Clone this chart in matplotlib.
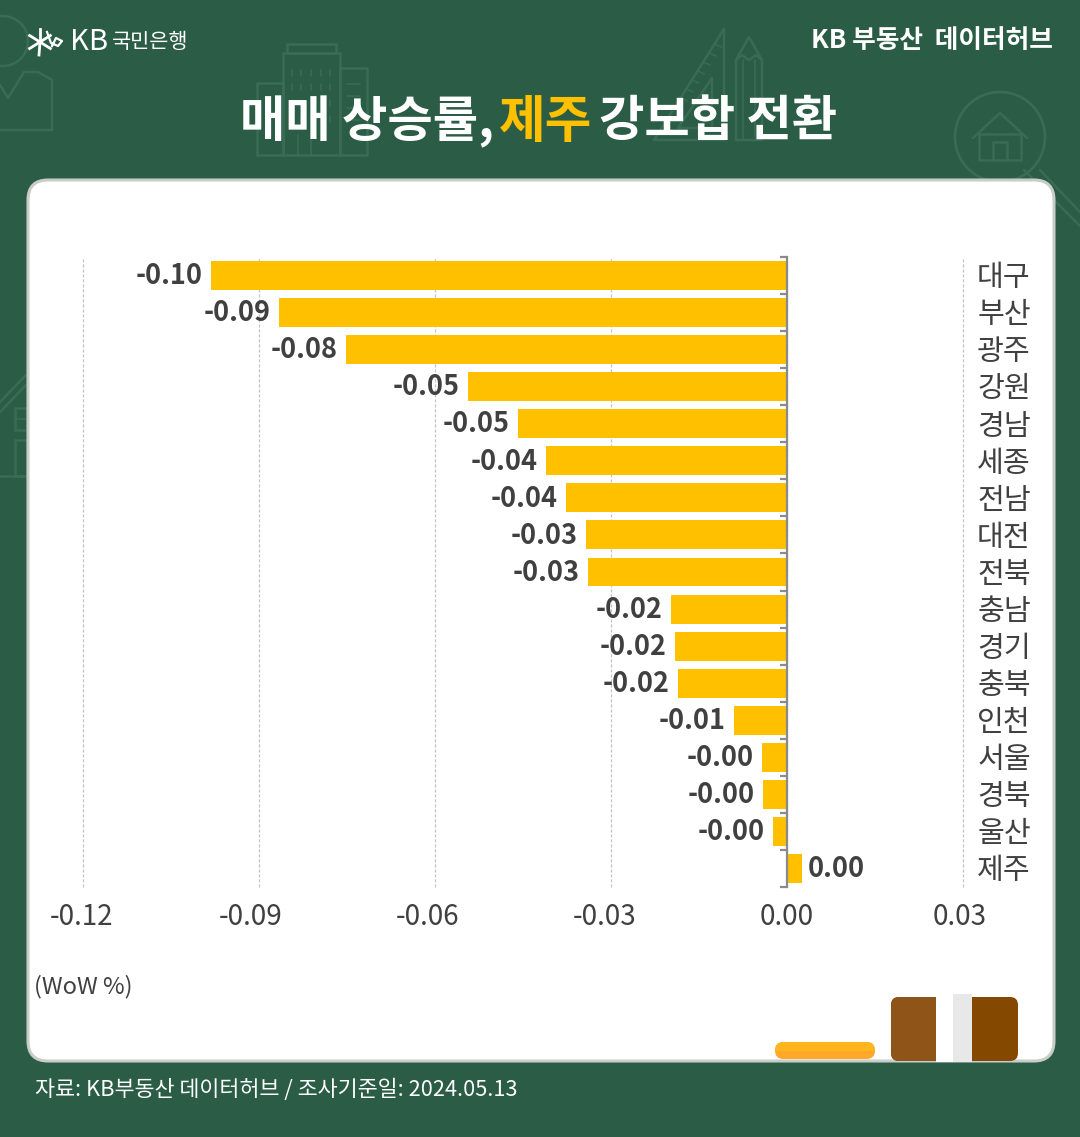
import matplotlib
matplotlib.use('Agg')
import matplotlib.pyplot as plt
import numpy as np
from matplotlib.patches import FancyBboxPatch, Rectangle, Circle
from matplotlib.transforms import ScaledTranslation

plt.rcParams['font.family'] = ['Noto Sans CJK KR', 'DejaVu Sans']

regions = ['대구', '부산', '광주', '강원', '경남', '세종', '전남', '대전', '전북',
           '충남', '경기', '충북', '인천', '서울', '경북', '울산', '제주']
values = [-0.0982, -0.0866, -0.0752, -0.0544, -0.0458, -0.0411, -0.0377, -0.0343, -0.0339,
          -0.0198, -0.0191, -0.0186, -0.0090, -0.0043, -0.0041, -0.0024, 0.0026]
x_ticks = [-0.12, -0.09, -0.06, -0.03, 0.00, 0.03]

GREEN = '#2a5c46'
DECO = '#396b55'
YELLOW = '#ffc000'
TEXT = '#404040'

W, H = 1080, 1137
fig = plt.figure(figsize=(W / 100, H / 100), dpi=100, facecolor=GREEN)

# pixel-coordinate layer for the card and decoration
bg = fig.add_axes([0, 0, 1, 1], zorder=0)
bg.set_xlim(0, W)
bg.set_ylim(H, 0)
bg.axis('off')


def deco_line(xs, ys, lw=1.8):
    bg.plot(xs, ys, color=DECO, lw=lw, solid_capstyle='round', zorder=1)


def deco_box(x, y, w, h, lw=1.8):
    bg.add_patch(Rectangle((x, y), w, h, fill=False, ec=DECO, lw=lw, zorder=1))


# person icon, left
bg.add_patch(Circle((3, 41), 25, fill=False, ec=DECO, lw=1.8, zorder=1))
deco_line([0, 8, 24, 38, 52, 52, 0], [85, 98, 72, 72, 80, 130, 130])
# buildings
deco_box(283, 53, 57, 102)
deco_box(287, 44, 49, 9)
deco_box(257, 83, 26, 72)
deco_box(340, 68, 27, 87)
for bx in [292, 301, 311, 321, 330]:
    for by in [70, 84, 100, 116]:
        deco_line([bx, bx], [by, by + 6], lw=1.2)
for by in [84, 96, 108, 120]:
    deco_line([347, 360], [by, by], lw=1.2)
deco_line([298, 298], [135, 155], lw=1.2)
deco_line([311, 311], [135, 155], lw=1.2)
# set square and pencil
deco_line([724, 724, 654, 724], [29, 140, 140, 29])
deco_line([712, 712, 678, 712], [78, 128, 128, 78])
for t in np.arange(44, 120, 9):
    k = (t - 29) / 111 * 70
    deco_line([724 - k, 724 - k + 7], [t, t + 3], lw=1.1)
deco_line([736, 736, 749, 762, 762, 736], [140, 60, 37, 60, 140, 140])
deco_line([736, 742, 749, 756, 762], [60, 55, 60, 55, 60])
deco_line([743, 743], [60, 140], lw=1.2)
deco_line([755, 755], [60, 140], lw=1.2)
# magnifier and house, right
bg.add_patch(Circle((1000, 137), 45, fill=False, ec=DECO, lw=2, zorder=1))
deco_line([973, 1000, 1027], [138, 113, 138])
deco_line([979, 979, 1021, 1021, 979], [134, 160, 160, 134, 134])
deco_line([993, 993, 1007, 1007], [160, 142, 142, 160])
deco_line([1024, 1080], [170, 226])
deco_line([1040, 1080], [170, 212])
# house, left edge
deco_line([0, 26], [402, 375])
deco_line([0, 26], [412, 385])
deco_box(15, 408, 12, 22)
deco_line([15, 27], [419, 419], lw=1.2)
deco_box(15, 440, 12, 36)
deco_line([0, 26], [476, 476])

# white card
bg.add_patch(FancyBboxPatch((28, 180), 1026, 881, boxstyle='round,pad=0,rounding_size=20',
                            fc='white', ec='#c9cdca', lw=2.2, zorder=2))

# KB logo, drawn as strokes
for a in [90, 150, 30, 210, 330]:
    r = np.deg2rad(a)
    bg.plot([40, 40 + 12 * np.cos(r)], [42, 42 - 13 * np.sin(r)], color='white', lw=2, zorder=3)
bg.plot([40, 39], [42, 55], color='white', lw=2, zorder=3)
bg.plot([47, 51, 58, 62, 56, 52], [32, 43, 46, 41, 38, 46], color='white', lw=1.6, zorder=3)
bg.text(70, 42, 'KB', color='white', fontsize=21, va='center', ha='left', zorder=3)
bg.text(112, 42, '국민은행', color='white', fontsize=15, fontweight='medium', va='center', ha='left', zorder=3)
bg.text(1053, 41, 'KB 부동산  데이터허브', color='white', fontsize=18.5, fontweight='bold',
        va='center', ha='right', zorder=3)

# title
bg.text(240, 122, '매매 상승률,', color='white', fontsize=35.5, fontweight='bold', va='center', ha='left', zorder=3)
bg.text(499, 122, '제주', color=YELLOW, fontsize=36.5, fontweight='bold', va='center', ha='left', zorder=3)
bg.text(599, 122, '강보합 전환', color='white', fontsize=35.5, fontweight='bold', va='center', ha='left', zorder=3)

# footer and unit
bg.text(35, 1090, '자료: KB부동산 데이터허브 / 조사기준일: 2024.05.13', color='white', fontsize=15.7,
        va='center', ha='left', zorder=3)
bg.text(34, 987, '(WoW %)', color=TEXT, fontsize=17, va='center', ha='left', zorder=3)

# the little desk objects on the card edge
pill = FancyBboxPatch((775, 1042), 100, 17, boxstyle='round,pad=0,rounding_size=8.5',
                      fc='#ffa726', ec='none', zorder=3)
bg.add_patch(pill)
pill_top = Rectangle((775, 1042), 100, 9, fc='#ffb51c', ec='none', zorder=3)
bg.add_patch(pill_top)
pill_top.set_clip_path(pill)
bg.add_patch(FancyBboxPatch((891, 997), 127, 64, boxstyle='round,pad=0,rounding_size=8',
                            fc='#854800', ec='none', zorder=3))
bg.add_patch(FancyBboxPatch((891, 997), 60, 64, boxstyle='round,pad=0,rounding_size=8',
                            fc='#8f5518', ec='none', zorder=3))
bg.add_patch(Rectangle((936, 994), 17, 68, fc='white', ec='none', zorder=3))
bg.add_patch(Rectangle((953, 994), 19, 68, fc='#e8e8e8', ec='none', zorder=3))

# bar chart
ax = fig.add_axes([83 / W, 1 - 887 / H, 880 / W, 630 / H], zorder=1)
ax.patch.set_alpha(0)
y = np.arange(len(regions))
ax.barh(y, values, height=0.78, color=YELLOW, zorder=3)
ax.set_xlim(-0.12, 0.03)
ax.set_ylim(len(regions) - 0.5, -0.5)
ax.set_xticks(x_ticks)
ax.set_xticklabels(['%.2f' % v for v in x_ticks], fontsize=20, color=TEXT)
ax.tick_params(axis='x', length=0, pad=11)
# the source labels sit a little left of their gridlines
for label, dx in zip(ax.get_xticklabels(), [-1.5, -8, -7, -6, 0, -3]):
    label.set_transform(label.get_transform() + ScaledTranslation(dx / 100, 0, fig.dpi_scale_trans))
ax.set_yticks(np.arange(len(regions) + 1) - 0.5)
ax.set_yticklabels([])
ax.tick_params(axis='y', length=5, width=1.6, color='#8a8a8a')
ax.grid(axis='x', color='#c4c4c4', ls=(0, (2.5, 1.5)), lw=0.9, zorder=0)
for gl in ax.get_xgridlines():
    gl.set_clip_on(False)
for name, spine in ax.spines.items():
    spine.set_visible(False)
ax.spines['left'].set_visible(True)
ax.spines['left'].set_position(('data', 0))
ax.spines['left'].set_color('#8a8a8a')
ax.spines['left'].set_linewidth(1.6)
ax.spines['left'].set_zorder(4)

for i, v in enumerate(values):
    if v < 0:
        ax.annotate('%.2f' % v, (v, i), xytext=(-6, -0.5), textcoords='offset points', ha='right', va='center',
                    fontsize=19.5, fontweight='bold', color=TEXT)
    else:
        ax.annotate('%.2f' % v, (v, i), xytext=(4, -0.5), textcoords='offset points', ha='left', va='center',
                    fontsize=19.5, fontweight='bold', color=TEXT)
    ax.annotate(regions[i], (1, i), xycoords=ax.get_yaxis_transform(), xytext=(29.5, -2),
                textcoords='offset points', ha='center', va='center', fontsize=21, color=TEXT,
                annotation_clip=False)

fig.savefig('out.png', dpi=100, facecolor=GREEN)
